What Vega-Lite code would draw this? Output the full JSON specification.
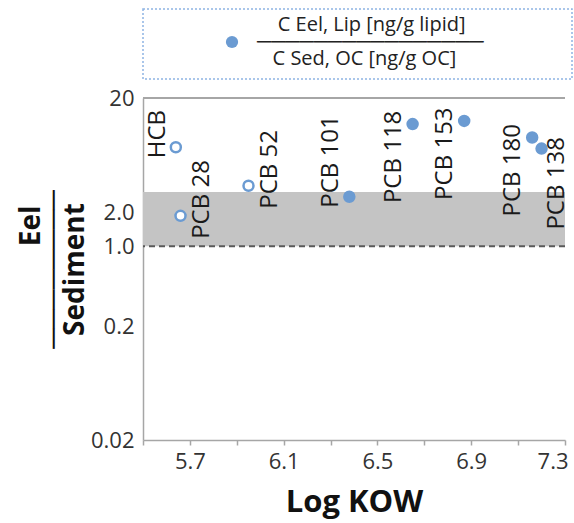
{
  "$schema": "https://vega.github.io/schema/vega-lite/v6.json",
  "width": 422,
  "height": 342,
  "autosize": {"type": "none"},
  "padding": {"left": 143, "top": 98, "right": 9, "bottom": 83},
  "background": "white",
  "config": {
    "view": {"stroke": null},
    "font": "Open Sans",
    "legend": {"strokeDash": [2, 2], "strokeWidth": 1.5}
  },
  "datasets": {
    "ratios": [
      {"compound": "HCB", "logKow": 5.64, "ratio": 7.4, "group": "B"},
      {"compound": "PCB 28", "logKow": 5.66, "ratio": 1.85, "group": "B"},
      {"compound": "PCB 52", "logKow": 5.95, "ratio": 3.4, "group": "B"},
      {"compound": "PCB 101", "logKow": 6.38, "ratio": 2.72, "group": "A"},
      {"compound": "PCB 118", "logKow": 6.65, "ratio": 11.8, "group": "A"},
      {"compound": "PCB 153", "logKow": 6.87, "ratio": 12.6, "group": "A"},
      {"compound": "PCB 180", "logKow": 7.16, "ratio": 9.0, "group": "A"},
      {"compound": "PCB 138", "logKow": 7.2, "ratio": 7.2, "group": "A"}
    ],
    "band": [{"lower": 1, "upper": 3, "top": 20}]
  },
  "layer": [
    {
      "data": {"name": "band"},
      "mark": {"type": "rect", "color": "#c4c4c4"},
      "encoding": {
        "y": {"field": "lower", "type": "quantitative", "scale": {"type": "log", "domain": [0.02, 20], "nice": false}},
        "y2": {"field": "upper"}
      }
    },
    {
      "data": {"name": "band"},
      "mark": {"type": "rule", "color": "#595959", "strokeDash": [6, 4], "strokeWidth": 2},
      "encoding": {
        "y": {"field": "lower", "type": "quantitative", "scale": {"type": "log", "domain": [0.02, 20], "nice": false}}
      }
    },
    {
      "data": {"name": "band"},
      "mark": {"type": "rule", "color": "#a6a6a6", "strokeWidth": 2},
      "encoding": {
        "y": {"field": "top", "type": "quantitative", "scale": {"type": "log", "domain": [0.02, 20], "nice": false}}
      }
    },
    {
      "data": {"name": "ratios"},
      "mark": {"type": "point", "shape": "circle", "size": 100, "strokeWidth": 2.5, "stroke": "#6b9bd2", "opacity": 1},
      "encoding": {
        "x": {
          "field": "logKow", "type": "quantitative",
          "scale": {"domain": [5.5, 7.3], "nice": false, "zero": false},
          "axis": {
            "values": [5.5, 5.7, 5.9, 6.1, 6.3, 6.5, 6.7, 6.9, 7.1, 7.3],
            "labelExpr": "indexof(['5.7','6.1','6.5','6.9','7.3'], format(datum.value,'.1f')) >= 0 ? format(datum.value,'.1f') : ''",
            "tickSize": 5, "tickColor": "#a6a6a6", "tickWidth": 1.5,
            "domainColor": "#a6a6a6", "domainWidth": 1.5, "grid": false,
            "labelFontSize": 22, "labelPadding": 6, "labelColor": "#333333",
            "labelOverlap": false, "labelFlush": true, "labelFlushOffset": 3,
            "title": "Log KOW", "titleFontSize": 31, "titleFontWeight": "bold", "titlePadding": 15, "titleColor": "#111111"
          }
        },
        "y": {
          "field": "ratio", "type": "quantitative",
          "scale": {"type": "log", "domain": [0.02, 20], "nice": false},
          "axis": {
            "values": [0.02, 0.2, 1, 2, 20],
            "labelExpr": "datum.value >= 10 ? '20' : datum.value < 0.1 ? '0.02' : format(datum.value, '.1f')",
            "ticks": false, "tickSize": 0, "grid": false,
            "domainColor": "#a6a6a6", "domainWidth": 1.5,
            "labelFontSize": 22, "labelColor": "#333333", "labelPadding": 9, "labelOverlap": false,
            "title": ["\u200b\u00a0\u00a0\u00a0\u00a0\u00a0\u00a0\u00a0\u00a0\u00a0\u00a0\u00a0\u00a0Eel", "────────", "Sediment"],
            "titleFontSize": 28, "titleFontWeight": "bold", "titleLineHeight": 22, "titlePadding": 1, "titleColor": "#111111"
          }
        },
        "fill": {
          "field": "group", "type": "nominal",
          "scale": {"domain": ["A", "B"], "range": ["#6b9bd2", "#ffffff"]},
          "legend": {
            "values": ["A"],
            "orient": "top", "offset": 19,
            "title": ["\u200b\u00a0\u00a0\u00a0\u00a0C Eel, Lip [ng/g lipid]", "────────────────\u00a0\u00a0\u00a0\u00a0\u00a0\u00a0\u00a0\u00a0\u00a0\u00a0\u00a0\u00a0\u00a0\u00a0\u00a0\u200b", "\u200b\u00a0\u00a0\u00a0C Sed, OC [ng/g OC]"],
            "titleOrient": "right", "titleFontSize": 20, "titleFontWeight": "normal", "titleLineHeight": 17,
            "titleColor": "#222222", "titlePadding": 2, "titleAlign": "left", "titleLimit": 500,
            "labelExpr": "''", "labelOffset": 0, "labelFontSize": 46,
            "symbolType": "circle", "symbolSize": 150, "symbolStrokeWidth": 0, "symbolFillColor": "#6b9bd2",
            "symbolOffset": 56, "padding": 10, "strokeColor": "#8fb4e3"
          }
        }
      }
    },
    {
      "data": {"name": "ratios"},
      "transform": [{"filter": {"field": "compound", "oneOf": ["HCB", "PCB 101"]}}],
      "mark": {"type": "text", "angle": 270, "align": "left", "baseline": "middle", "dx": -11, "dy": -18, "fontSize": 24, "color": "#1a1a1a"},
      "encoding": {
        "x": {"field": "logKow", "type": "quantitative", "scale": {"domain": [5.5, 7.3], "nice": false, "zero": false}},
        "y": {"field": "ratio", "type": "quantitative", "scale": {"type": "log", "domain": [0.02, 20], "nice": false}},
        "text": {"field": "compound"}
      }
    },
    {
      "data": {"name": "ratios"},
      "transform": [{"filter": {"field": "compound", "oneOf": ["PCB 28", "PCB 52"]}}],
      "mark": {"type": "text", "angle": 270, "align": "left", "baseline": "middle", "dx": -23, "dy": 21, "fontSize": 24, "color": "#1a1a1a"},
      "encoding": {
        "x": {"field": "logKow", "type": "quantitative", "scale": {"domain": [5.5, 7.3], "nice": false, "zero": false}},
        "y": {"field": "ratio", "type": "quantitative", "scale": {"type": "log", "domain": [0.02, 20], "nice": false}},
        "text": {"field": "compound"}
      }
    },
    {
      "data": {"name": "ratios"},
      "transform": [{"filter": {"field": "compound", "oneOf": ["PCB 118", "PCB 153", "PCB 180"]}}],
      "mark": {"type": "text", "angle": 270, "align": "left", "baseline": "middle", "dx": -79, "dy": -19, "fontSize": 24, "color": "#1a1a1a"},
      "encoding": {
        "x": {"field": "logKow", "type": "quantitative", "scale": {"domain": [5.5, 7.3], "nice": false, "zero": false}},
        "y": {"field": "ratio", "type": "quantitative", "scale": {"type": "log", "domain": [0.02, 20], "nice": false}},
        "text": {"field": "compound"}
      }
    },
    {
      "data": {"name": "ratios"},
      "transform": [{"filter": {"field": "compound", "oneOf": ["PCB 138"]}}],
      "mark": {"type": "text", "angle": 270, "align": "left", "baseline": "middle", "dx": -81, "dy": 15, "fontSize": 24, "color": "#1a1a1a"},
      "encoding": {
        "x": {"field": "logKow", "type": "quantitative", "scale": {"domain": [5.5, 7.3], "nice": false, "zero": false}},
        "y": {"field": "ratio", "type": "quantitative", "scale": {"type": "log", "domain": [0.02, 20], "nice": false}},
        "text": {"field": "compound"}
      }
    }
  ]
}
